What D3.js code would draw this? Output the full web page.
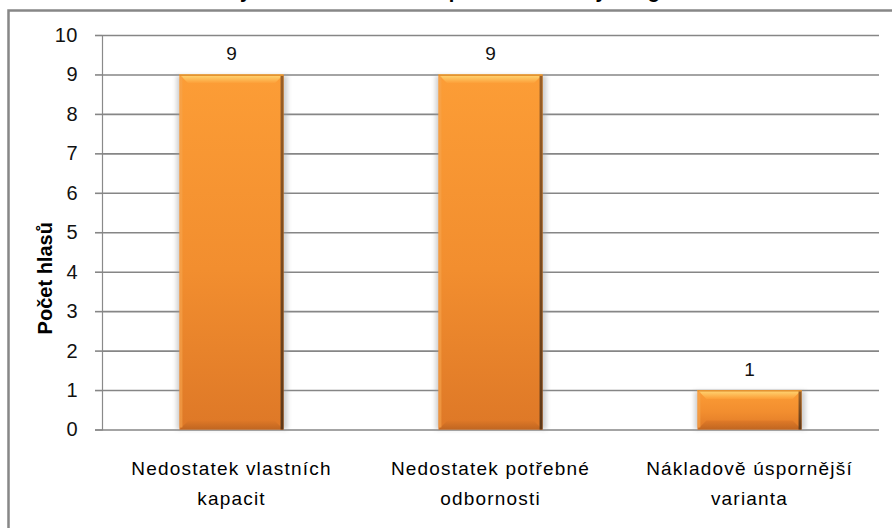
<!DOCTYPE html>
<html>
<head>
<meta charset="utf-8">
<script src="https://cdn.jsdelivr.net/npm/d3@7/dist/d3.min.js"></script>
<style>
  html, body { margin: 0; padding: 0; background: #fff; }
  svg { display: block; }
</style>
</head>
<body>
<svg id="chart" width="892" height="528"></svg>
<script>
// Data
const titleText = "Důvody zadání této činnosti pro externí firmy v regionu";
const yAxisTitle = "Počet hlasů";
const categories = [
  "Nedostatek vlastních kapacit",
  "Nedostatek potřebné odbornosti",
  "Nákladově úspornější varianta"
];
const votes = [9, 9, 1];
const yTicks = [0, 1, 2, 3, 4, 5, 6, 7, 8, 9, 10];

const W = 892, H = 528;
const plot = { left: 102, right: 879, top: 35, bottom: 429.5 };
const FONT = "'Liberation Sans', Arial, sans-serif";

const svg = d3.select("#chart");
const defs = svg.append("defs");

// bar body gradient
const body = defs.append("linearGradient").attr("id", "barBody")
  .attr("x1", 0).attr("y1", 0).attr("x2", 0).attr("y2", 1);
body.append("stop").attr("offset", "0%").attr("stop-color", "#fc9d36");
body.append("stop").attr("offset", "55%").attr("stop-color", "#f28e2f");
body.append("stop").attr("offset", "100%").attr("stop-color", "#de7827");

const topBevel = defs.append("linearGradient").attr("id", "topBevel")
  .attr("x1", 0).attr("y1", 0).attr("x2", 0).attr("y2", 1);
topBevel.append("stop").attr("offset", "0%").attr("stop-color", "#ffda78");
topBevel.append("stop").attr("offset", "100%").attr("stop-color", "#fc9d36");

const botBevel = defs.append("linearGradient").attr("id", "botBevel")
  .attr("x1", 0).attr("y1", 0).attr("x2", 0).attr("y2", 1);
botBevel.append("stop").attr("offset", "0%").attr("stop-color", "#de7827");
botBevel.append("stop").attr("offset", "100%").attr("stop-color", "#b9611f");

const rightBevel = defs.append("linearGradient").attr("id", "rightBevel")
  .attr("x1", 0).attr("y1", 0).attr("x2", 0).attr("y2", 1);
rightBevel.append("stop").attr("offset", "0%").attr("stop-color", "#9a5f26");
rightBevel.append("stop").attr("offset", "100%").attr("stop-color", "#5e3818");

const shadow = defs.append("filter").attr("id", "softShadow")
  .attr("x", "-20%").attr("y", "-20%").attr("width", "140%").attr("height", "140%");
shadow.append("feGaussianBlur").attr("stdDeviation", 2.2);

// outer frame (runs past the right and bottom edges)
svg.append("rect")
  .attr("x", 8.5).attr("y", 10.5)
  .attr("width", W + 20).attr("height", H + 20)
  .attr("fill", "none").attr("stroke", "#878787").attr("stroke-width", 2.5);

// title, mostly above the top edge
svg.append("text")
  .attr("x", 440).attr("y", -2)
  .attr("text-anchor", "middle")
  .attr("font-family", FONT).attr("font-weight", "bold").attr("font-size", 20)
  .attr("fill", "#000")
  .text(titleText);

// scales
const x = d3.scaleBand().domain(categories)
  .range([plot.left, plot.right])
  .paddingInner(0.598).paddingOuter(0.299);
const y = d3.scaleLinear().domain([0, 10]).range([plot.bottom, plot.top]);

// gridlines + y ticks
const yAxis = d3.axisLeft(y).tickValues(yTicks).tickSize(7).tickPadding(17).tickFormat(d3.format("d"));
const gy = svg.append("g").attr("transform", `translate(${plot.left},0)`).call(yAxis);
gy.select(".domain").attr("stroke", "#8a8a8a").attr("stroke-width", 1.2);
gy.selectAll(".tick line").attr("stroke", "#868686").attr("stroke-width", 1.6);
gy.selectAll(".tick text")
  .attr("font-family", FONT).attr("font-size", 20).attr("fill", "#111")
  .attr("letter-spacing", 0.5);
gy.selectAll(".tick").append("line")
  .attr("x1", 0).attr("x2", plot.right - plot.left)
  .attr("stroke", "#868686").attr("stroke-width", 1.6);

// y axis title
svg.append("text")
  .attr("transform", `translate(52,${(plot.top + plot.bottom) / 2 + 46}) rotate(-90)`)
  .attr("text-anchor", "middle")
  .attr("font-family", FONT).attr("font-weight", "bold").attr("font-size", 20)
  .attr("fill", "#000")
  .text(yAxisTitle);

// bars
const bars = svg.append("g").selectAll("g").data(categories).join("g")
  .attr("transform", d => `translate(${x(d)},0)`);

bars.each(function (d, i) {
  const g = d3.select(this);
  const bw = x.bandwidth();
  const top = y(votes[i]);
  const h = y(0) - top;
  const b = Math.min(9, h / 3);   // bevel depth
  const s = 3;                    // side strip width

  g.append("rect")
    .attr("x", -3).attr("y", top + 1).attr("width", bw + 7).attr("height", h - 1)
    .attr("fill", "#9a9a9a").attr("opacity", 0.45).attr("filter", "url(#softShadow)");

  g.append("rect").attr("x", 0).attr("y", top).attr("width", bw).attr("height", h)
    .attr("fill", "url(#barBody)");

  // top bevel
  g.append("path")
    .attr("d", `M0,${top} L${bw},${top} L${bw - b},${top + b} L${b},${top + b} Z`)
    .attr("fill", "url(#topBevel)");
  // bottom bevel
  g.append("path")
    .attr("d", `M0,${top + h} L${bw},${top + h} L${bw - b},${top + h - b} L${b},${top + h - b} Z`)
    .attr("fill", "url(#botBevel)").attr("opacity", 0.8);
  // left edge
  g.append("rect").attr("x", 0).attr("y", top + 2).attr("width", s).attr("height", h - 4)
    .attr("fill", "#f7a54e").attr("opacity", 0.6);
  // right edge
  g.append("rect").attr("x", bw - s).attr("y", top + 1).attr("width", s).attr("height", h - 1)
    .attr("fill", "url(#rightBevel)");
  // crisp top rim
  g.append("rect").attr("x", 0).attr("y", top).attr("width", bw).attr("height", 1.5)
    .attr("fill", "#e3902f");
});

// value labels
svg.append("g").selectAll("text").data(categories).join("text")
  .attr("x", d => x(d) + x.bandwidth() / 2)
  .attr("y", (d, i) => y(votes[i]) - 14)
  .attr("text-anchor", "middle")
  .attr("font-family", FONT).attr("font-size", 19).attr("fill", "#111")
  .text((d, i) => votes[i]);

// category labels, wrapped at the last space
const catG = svg.append("g").selectAll("text").data(categories).join("text")
  .attr("text-anchor", "middle")
  .attr("font-family", FONT).attr("font-size", 19).attr("fill", "#000")
  .attr("letter-spacing", 1.2);
catG.each(function (d) {
  const k = d.lastIndexOf(" ");
  const lines = [d.slice(0, k), d.slice(k + 1)];
  const t = d3.select(this);
  lines.forEach((ln, j) => {
    t.append("tspan")
      .attr("x", x(d) + x.bandwidth() / 2)
      .attr("y", 475 + j * 30)
      .text(ln);
  });
});
</script>
</body>
</html>
